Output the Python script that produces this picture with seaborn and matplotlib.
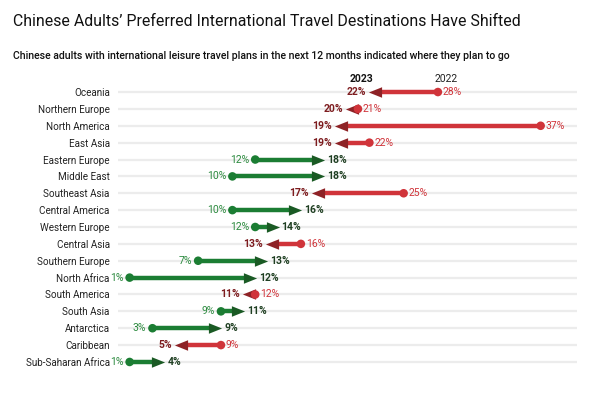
import numpy as np
import pandas as pd
import matplotlib
matplotlib.use("Agg")
import matplotlib.pyplot as plt
import seaborn as sns

# donnees
regions = ["Oceania", "Northern Europe", "North America", "East Asia", "Eastern Europe",
           "Middle East", "Southeast Asia", "Central America", "Western Europe", "Central Asia",
           "Southern Europe", "North Africa", "South America", "South Asia", "Antarctica",
           "Caribbean", "Sub-Saharan Africa"]
pct_2022 = [28, 21, 37, 22, 12, 10, 25, 10, 12, 16, 7, 1, 12, 9, 3, 9, 1]
pct_2023 = [22, 20, 19, 19, 18, 18, 17, 16, 14, 13, 13, 12, 11, 11, 9, 5, 4]

df = pd.DataFrame({"region": regions, "y2022": pct_2022, "y2023": pct_2023})
df["pos"] = np.arange(len(df))
df["up"] = df["y2023"] > df["y2022"]

sns.set_style("white")
plt.rcParams["font.family"] = ["Roboto", "DejaVu Sans"]

# couleurs
RED_LINE, RED_HEAD, RED_TXT = "#d0343a", "#8e2226", "#d0343a"
GRN_LINE, GRN_HEAD, GRN_TXT = "#1b7d33", "#1a5a24", "#2b8a3e"
DARK_RED_TXT, DARK_GRN_TXT = "#7d1c1f", "#1f3f22"

fig = plt.figure(figsize=(6, 4), dpi=100)
ax = fig.add_axes([0.197, 0.074, 0.765, 0.717])

xmax = 40.2
ax.set_xlim(0, xmax)
ax.set_ylim(len(df) - 0.5, -0.5)

# lignes de fond
ax.hlines(df["pos"], 0, xmax, color="#ececec", lw=1.6, zorder=0)

# fleches
px_per_pct = 0.765 * 600 / xmax
head_len = 11 / px_per_pct
for _, r in df.iterrows():
    sign = 1 if r["up"] else -1
    line_c = GRN_LINE if r["up"] else RED_LINE
    head_c = GRN_HEAD if r["up"] else RED_HEAD
    ax.plot([r["y2022"], r["y2023"] - sign * head_len * 0.8], [r["pos"], r["pos"]],
            color=line_c, lw=3.2, solid_capstyle="butt", zorder=2)
    tri = [(-1, -0.8), (1, 0), (-1, 0.8)] if r["up"] else [(1, -0.8), (-1, 0), (1, 0.8)]
    ax.scatter([r["y2023"] - sign * head_len / 2], [r["pos"]], marker=tri, s=90,
               color=head_c, linewidths=0, zorder=3)

# points 2022
sns.scatterplot(data=df, x="y2022", y="pos", hue="up",
                palette={True: GRN_LINE, False: RED_LINE}, s=38, linewidth=0,
                legend=False, ax=ax, zorder=4)

# etiquettes
for _, r in df.iterrows():
    if r["up"]:
        ax.annotate(f"{r['y2022']}%", (r["y2022"], r["pos"]), xytext=(-4.5, 0),
                    textcoords="offset points", ha="right", va="center",
                    fontsize=7.5, color=GRN_TXT)
        ax.annotate(f"{r['y2023']}%", (r["y2023"], r["pos"]), xytext=(2.5, 0),
                    textcoords="offset points", ha="left", va="center",
                    fontsize=7.5, color=DARK_GRN_TXT, fontweight="bold")
    else:
        ax.annotate(f"{r['y2022']}%", (r["y2022"], r["pos"]), xytext=(3.5, 0),
                    textcoords="offset points", ha="left", va="center",
                    fontsize=7.5, color=RED_TXT)
        ax.annotate(f"{r['y2023']}%", (r["y2023"], r["pos"]), xytext=(-2.5, 0),
                    textcoords="offset points", ha="right", va="center",
                    fontsize=7.5, color=DARK_RED_TXT, fontweight="bold")

# en-tetes annees
ax.text(df["y2023"][0] - 0.7, -0.75, "2023", ha="center", va="center",
        fontsize=7.5, fontweight="bold", color="#111111")
ax.text(df["y2022"][0] + 0.75, -0.75, "2022", ha="center", va="center",
        fontsize=7.5, color="#222222")

ax.set_yticks(df["pos"])
ax.set_yticklabels(df["region"], fontsize=7.1, color="#222222")
ax.tick_params(axis="y", length=0, pad=6)
ax.set_xticks([])
ax.set_xlabel("")
ax.set_ylabel("")
sns.despine(ax=ax, left=True, bottom=True)

fig.text(0.022, 0.945, "Chinese Adults\u2019 Preferred International Travel Destinations Have Shifted",
         fontsize=11.4, color="#111111", va="center")
fig.text(0.022, 0.86, "Chinese adults with international leisure travel plans in the next 12 months indicated where they plan to go",
         fontsize=7.6, color="#111111", va="center", fontweight="medium")

fig.savefig("out.png", dpi=100)
